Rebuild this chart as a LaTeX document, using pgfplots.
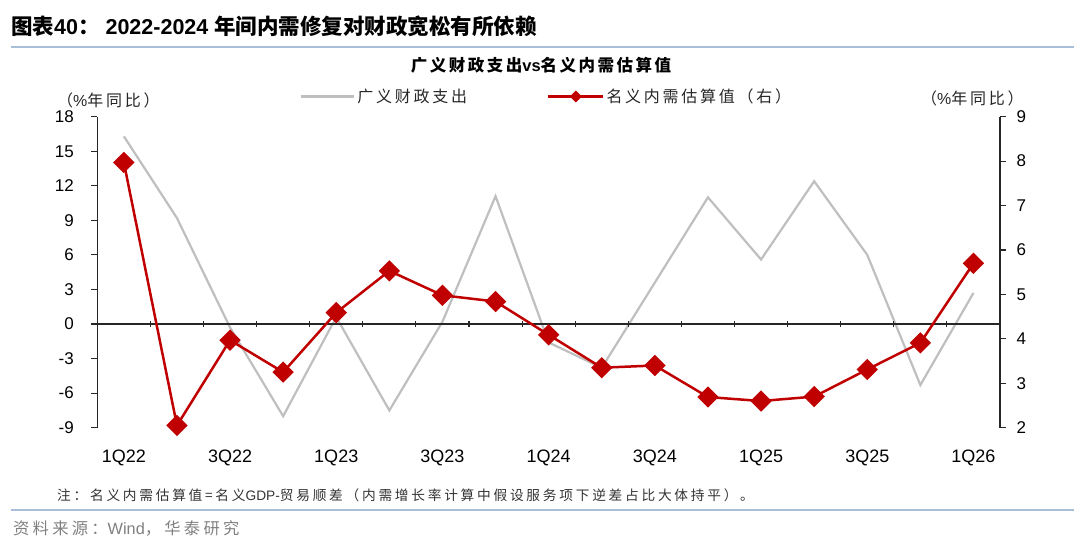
\documentclass[border=0pt]{standalone}
\usepackage{pgfplots}
\usepackage{pgfplotstable}
\pgfplotsset{compat=1.18}
\usepackage{fontspec}
\setmainfont{Liberation Sans}
\newfontfamily\cjk{Noto Sans CJK SC}
\newfontfamily\cjks{Noto Sans CJK SC}[LetterSpace=15]
\newfontfamily\cjkl{Noto Sans CJK SC}[LetterSpace=17]
\newfontfamily\cjkn{Noto Sans CJK SC}[LetterSpace=20]
\definecolor{greyline}{HTML}{BFBFBF}
\definecolor{redline}{HTML}{C00000}
\definecolor{axisc}{HTML}{262626}
\definecolor{rulec}{HTML}{A9BED8}
\definecolor{srcgrey}{HTML}{808080}
\definecolor{notec}{HTML}{333333}

\pgfplotsset{
  greyleg/.style={legend image code/.code={\draw[##1] (0bp,0bp) -- (53bp,0bp);}},
  redleg/.style={legend image code/.code={\draw[##1, mark=none] (0bp,0bp) -- (55bp,0bp);
    \draw[##1, mark size=3bp] plot coordinates {(27.5bp,0bp)};}},
}

\pgfplotstableread{
x grey red
0 16.3 7.97
1 9.2 2.05
2 -0.3 3.97
3 -8.0 3.25
4 0.6 4.59
5 -7.5 5.53
6 0.2 4.98
7 11.1 4.84
8 -1.6 4.09
9 -3.8 3.35
10 3.6 3.40
11 11.0 2.69
12 5.6 2.60
13 12.4 2.70
14 6.0 3.31
15 -5.3 3.91
16 2.7 5.70
}\datatab

\begin{document}
\begin{tikzpicture}[x=1bp,y=1bp]
\path[use as bounding box] (0,0) rectangle (1080,539);
\pgfplotsset{base/.style={scale only axis, width=902.7bp, height=311bp,
  at={(97.3bp,111.3bp)}, anchor=south west, xmin=-0.5, xmax=16.5,
  tick align=outside, major tick length=6bp,
  every tick/.style={axisc, line width=1.1bp},
  yticklabel style={font=\fontsize{17bp}{17bp}\selectfont, text=black},
  xticklabel style={font=\fontsize{18bp}{18bp}\selectfont, text=black, yshift=-13bp},
}}
% left axis: broad fiscal spending
\begin{axis}[base, ymin=-9, ymax=18, ytick={-9,-6,...,18},
  yticklabels={-9,-6,-3,0,3,6,9,12,15,18},
  yticklabel style={xshift=-14bp},
  axis y line*=left, axis x line*=bottom,
  x axis line style={draw=none},
  y axis line style={-, axisc, line width=1.1bp},
  xtick={0,2,...,16},
  xticklabels={1Q22,3Q22,1Q23,3Q23,1Q24,3Q24,1Q25,3Q25,1Q26},
  xtick style={draw=none},
]
\addplot[greyline, line width=2.2bp, forget plot] table[x=x,y=grey]{\datatab};
\end{axis}
% zero line with category ticks
\begin{axis}[base, ymin=-9, ymax=18, axis x line=middle, axis y line=none,
  xtick={-0.5,0.5,...,16.5}, xticklabels={},
  x axis line style={-, axisc, line width=1.1bp},
]
\end{axis}
% right axis: nominal domestic demand
\begin{axis}[base, ymin=2, ymax=9, ytick={2,...,9},
  yticklabels={2,3,4,5,6,7,8,9},
  yticklabel style={xshift=7bp},
  axis y line*=right, axis x line=none, clip=false,
  y axis line style={-, axisc, line width=1.1bp},
  legend columns=2,
  legend style={draw=none, fill=none, at={(0.2246,1.065)}, anchor=west,
    inner sep=0pt, font=\cjkl\fontsize{16bp}{16bp}\selectfont, text=axisc,
    /tikz/every even column/.append style={column sep=78bp}},
]
\addlegendimage{greyline, line width=2.2bp, greyleg}
\addlegendentry{广义财政支出}
\addplot[redline, line width=2.5bp, mark=square*, mark size=6.3bp,
  mark options={rotate=45, solid}, redleg]
  table[x=x,y=red]{\datatab};
\addlegendentry{名义内需估算值（右）}
\end{axis}

% texts
\node[anchor=west, inner sep=0pt] at (11,513) {\fontsize{21.5bp}{21.5bp}\selectfont\bfseries {\cjk 图表}40{\cjk ：} 2022-2024 {\cjk 年间内需修复对财政宽松有所依赖}};
\draw[rulec, line width=1.2bp] (11,492) -- (1074,492);
\node[inner sep=0pt] at (541,473.5) {\fontsize{16.5bp}{16.5bp}\selectfont\bfseries {\cjks 广义财政支出}vs{\cjks 名义内需估算值}};
\node[anchor=west, inner sep=0pt, text=axisc] at (57,439) {\fontsize{16bp}{16bp}\selectfont{\cjkl （}\%{\cjkl 年同比）}};
\node[anchor=west, inner sep=0pt, text=axisc] at (921,441) {\fontsize{16bp}{16bp}\selectfont{\cjkl （}\%{\cjkl 年同比）}};
\node[anchor=west, inner sep=0pt, text=notec] at (57,44) {\fontsize{13.7bp}{13.7bp}\selectfont{\cjkn 注：名义内需估算值=名义}GDP-{\cjkn 贸易顺差（内需增长率计算中假设服务项下逆差占比大体持平）。}};
\draw[rulec, line width=1.2bp] (11,29) -- (1074,29);
\node[anchor=west, inner sep=0pt, text=srcgrey] at (13,11) {\fontsize{16.3bp}{16.3bp}\selectfont{\cjkn 资料来源：}Wind{\cjkn ，华泰研究}};
\end{tikzpicture}
\end{document}
